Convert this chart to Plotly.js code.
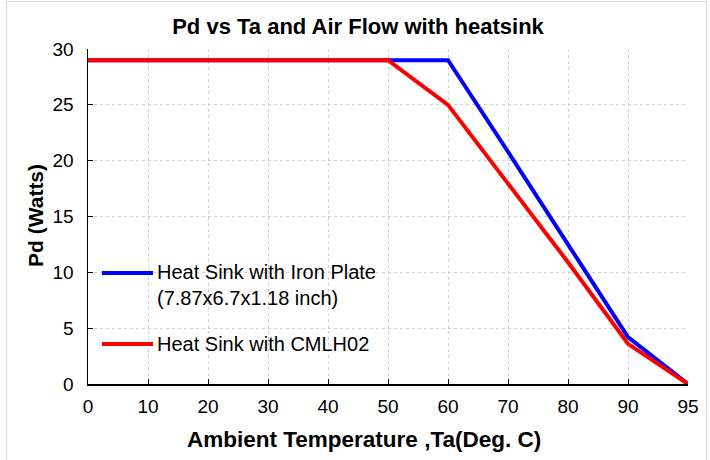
<!DOCTYPE html>
<html><head><meta charset="utf-8">
<script src="https://cdn.plot.ly/plotly-3.0.1.min.js"></script>
<style>
html,body{margin:0;padding:0;background:#fff;}
#wrap{position:absolute;left:0;top:0;width:710px;height:460px;}
#frame{position:absolute;left:6px;top:1px;width:699px;height:470px;border:1px solid #d9d9d9;pointer-events:none;}
#chart{position:absolute;left:0;top:0;width:710px;height:460px;}
</style></head>
<body>
<div id="wrap"><div id="chart"></div><div id="frame"></div></div>
<script>
const categories = ["0","10","20","30","40","50","60","70","80","90","95"];
const ironPlate = [29,29,29,29,29,29,29,20.8,12.5,4.2,0];
const cmlh02 = [29,29,29,29,29,29,25,18,10.9,3.6,0];
const yTicks = [0,5,10,15,20,25,30];
const seriesNames = ["Heat Sink with Iron Plate<br>(7.87x6.7x1.18 inch)","Heat Sink with CMLH02"];
const colors = ["#0000ff","#ff0000"];
const chartTitle = "Pd vs Ta and Air Flow with heatsink";
const xTitle = "Ambient Temperature ,Ta(Deg. C)";
const yTitle = "Pd (Watts)";

const font = "Liberation Sans, Arial, sans-serif";
const L = 88, T = 49, W = 600, H = 335;
const px = v => (v - L) / W;
const py = v => (T + H - v) / H;

const traces = [
  {x: categories, y: ironPlate, type:"scatter", mode:"lines", name: seriesNames[0],
   line:{color:colors[0], width:4}, cliponaxis:false, showlegend:false},
  {x: categories, y: cmlh02, type:"scatter", mode:"lines", name: seriesNames[1],
   line:{color:colors[1], width:4}, cliponaxis:false, showlegend:false}
];
const layout = {
  width:710, height:460,
  margin:{l:L, r:710-L-W, t:T, b:460-T-H},
  paper_bgcolor:"#fff", plot_bgcolor:"#fff",
  font:{family:font, color:"#000", size:18},
  title:{text:"<b>"+chartTitle+"</b>", font:{family:font, size:22, color:"#000"},
         x:358/710, xref:"container", y:1-26/460, yref:"container", xanchor:"center", yanchor:"middle"},
  xaxis:{type:"category", categoryorder:"array", categoryarray:categories, range:[0,10],
    showline:true, linecolor:"#000", linewidth:1.5,
    showgrid:true, gridcolor:"#d0d0d0", griddash:"dot", gridwidth:1,
    ticks:"inside", ticklen:5, tickcolor:"#000", ticklabelstandoff:5,
    tickfont:{family:font, size:19, color:"#000"}, zeroline:false},
  yaxis:{range:[0,30], tickvals:yTicks, ticktext:yTicks.map(String),
    showline:true, linecolor:"#000", linewidth:1.5,
    showgrid:true, gridcolor:"#d0d0d0", griddash:"dot", gridwidth:1,
    ticks:"inside", ticklen:5, tickcolor:"#000", ticklabelstandoff:9,
    tickfont:{family:font, size:19, color:"#000"}, zeroline:false},
  shapes:[
    {type:"line", xref:"paper", yref:"paper", x0:px(102), x1:px(153), y0:py(273), y1:py(273), line:{color:colors[0], width:4}},
    {type:"line", xref:"paper", yref:"paper", x0:px(102), x1:px(153), y0:py(344), y1:py(344), line:{color:colors[1], width:4}}
  ],
  annotations:[
    {xref:"paper", yref:"paper", x:px(155), y:py(285), xanchor:"left", yanchor:"middle", align:"left",
     text:seriesNames[0], showarrow:false, font:{family:font, size:20, color:"#000"}},
    {xref:"paper", yref:"paper", x:px(155), y:py(344), xanchor:"left", yanchor:"middle", align:"left",
     text:seriesNames[1], showarrow:false, font:{family:font, size:20, color:"#000"}},
    {xref:"paper", yref:"paper", x:px(363.5), y:py(439), xanchor:"center", yanchor:"middle",
     text:"<b>"+xTitle+"</b>", showarrow:false, font:{family:font, size:22.5, color:"#000"}},
    {xref:"paper", yref:"paper", x:px(35), y:py(216), xanchor:"center", yanchor:"middle", textangle:-90,
     text:"<b>"+yTitle+"</b>", showarrow:false, font:{family:font, size:21, color:"#000"}}
  ]
};
Plotly.newPlot("chart", traces, layout, {displayModeBar:false, staticPlot:true});
</script>
</body></html>
